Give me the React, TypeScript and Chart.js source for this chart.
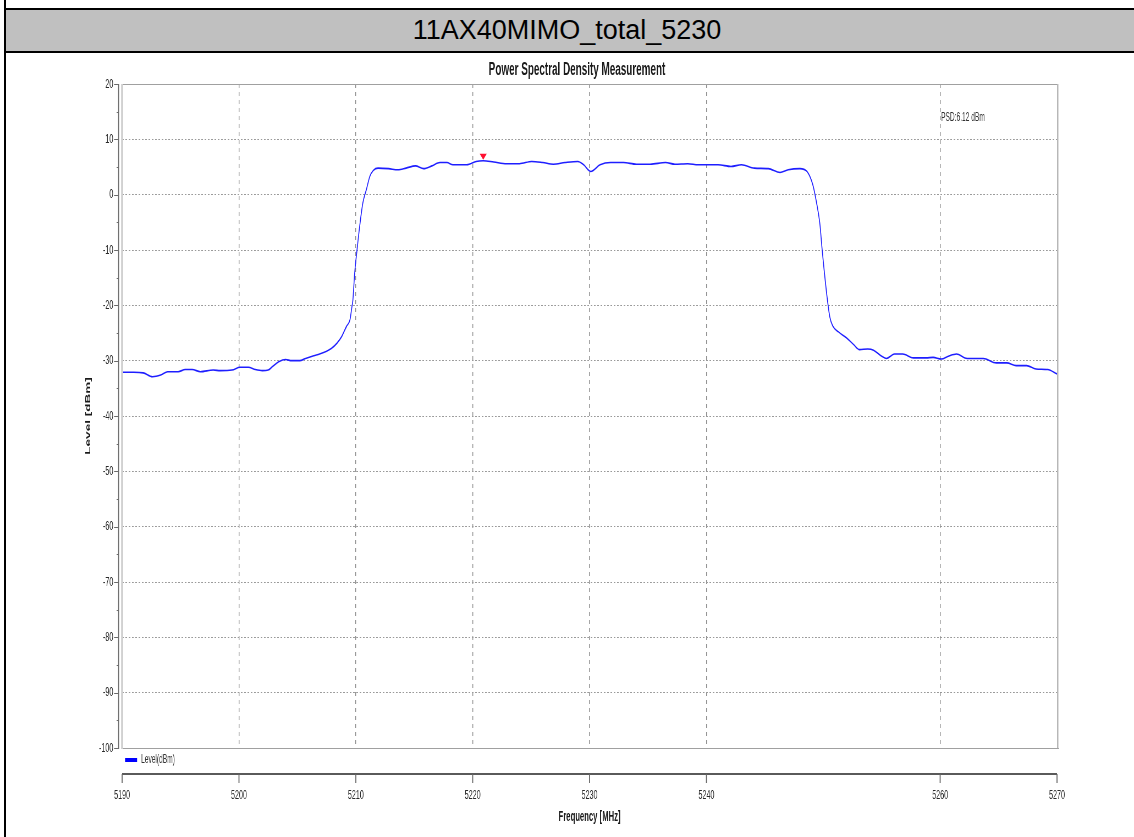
import React, { useEffect, useRef } from 'react';
import { Chart, registerables } from 'chart.js';

Chart.register(...registerables);

const headerTitle = '11AX40MIMO_total_5230';
const chartTitle = 'Power Spectral Density Measurement';
const psdLabel = 'PSD:6.12 dBm';
const legendLabel = 'Level(dBm)';
const xTitle = 'Frequency [MHz]';
const yTitle = 'Level [dBm]';

const xTicks = [5190, 5200, 5210, 5220, 5230, 5240, 5260, 5270];
const yTicks = [20, 10, 0, -10, -20, -30, -40, -50, -60, -70, -80, -90, -100];
const yMinorTicks = [15, 5, -5, -15, -25, -35, -45, -55, -65, -75, -85, -95];

const markerFreq = 5220.9;
const markerLevel = 6.12;

const freqs = [
  5190.0, 5191.0, 5191.8, 5192.6, 5193.3, 5193.9, 5194.8, 5195.4, 5196.0, 5196.7,
  5197.8, 5198.4, 5199.4, 5200.1, 5200.8, 5201.4, 5202.0, 5202.5, 5202.9, 5203.4,
  5204.0, 5204.5, 5205.2, 5205.7, 5206.4, 5206.9, 5207.5, 5207.9, 5208.4, 5208.8,
  5209.2, 5209.5, 5209.65, 5209.75, 5209.9, 5210.1, 5210.4, 5210.6, 5210.9, 5211.2,
  5211.5, 5211.9, 5212.8, 5213.6, 5214.3, 5215.1, 5215.8, 5216.5, 5217.2, 5217.8,
  5218.3, 5219.5, 5220.3, 5220.9, 5221.8, 5222.9, 5224.0, 5225.05, 5226.0, 5226.9,
  5227.9, 5229.0, 5229.5, 5230.1, 5230.9, 5231.8, 5232.9, 5234.0, 5235.2, 5236.5,
  5237.3, 5238.4, 5239.3, 5241.0, 5242.1, 5243.0, 5244.1, 5245.3, 5246.3, 5247.0,
  5248.0, 5248.6, 5249.1, 5249.4, 5249.7, 5249.9, 5250.1, 5250.35, 5250.55, 5250.8,
  5251.3, 5252.0, 5252.6, 5253.1, 5253.8, 5254.3, 5255.0, 5255.4, 5256.1, 5256.8,
  5257.7, 5258.8, 5259.4, 5260.1, 5260.7, 5261.4, 5262.3, 5263.7, 5264.8, 5265.7,
  5266.5, 5267.4, 5268.2, 5269.2, 5270.0,
];

const levels = [
  -32.1, -32.1, -32.2, -32.9, -32.6, -32.0, -32.0, -31.6, -31.6, -32.0,
  -31.7, -31.8, -31.7, -31.2, -31.2, -31.6, -31.8, -31.7, -31.0, -30.2,
  -29.8, -30.0, -30.0, -29.6, -29.1, -28.8, -28.3, -27.8, -26.8, -25.6,
  -23.8, -22.6, -20.5, -19.0, -14.2, -10.0, -4.5, -1.5, 0.9, 3.3,
  4.4, 4.8, 4.7, 4.5, 4.8, 5.2, 4.7, 5.2, 5.8, 5.8,
  5.4, 5.4, 6.0, 6.12, 5.9, 5.6, 5.6, 6.0, 5.8, 5.5,
  5.8, 6.0, 5.4, 4.2, 5.4, 5.8, 5.8, 5.5, 5.5, 5.8,
  5.5, 5.6, 5.4, 5.4, 5.1, 5.4, 4.8, 4.7, 4.0, 4.5,
  4.7, 4.2, 1.8, -1.2, -5.1, -9.9, -14.2, -19.0, -22.0, -23.7,
  -24.8, -25.9, -27.1, -28.0, -27.9, -28.1, -29.2, -29.6, -28.8, -28.8,
  -29.5, -29.5, -29.4, -29.7, -29.2, -28.8, -29.6, -29.6, -30.4, -30.4,
  -30.9, -30.9, -31.5, -31.6, -32.4,
];

// The original plot is horizontally squeezed: the chart is drawn on a wide
// canvas and displayed at the page width.
const PAGE_W = 1134;
const CANVAS_W = 2062;
const CANVAS_H = 784;
const SX = CANVAS_W / PAGE_W; // internal px per page px

const ARIAL = '"Liberation Sans", Arial, sans-serif';

const decorPlugin = {
  id: 'decor',
  afterDraw(chart: any) {
    const { ctx, chartArea: a, scales } = chart;
    const xs = scales.x;
    const ys = scales.y;
    ctx.save();
    ctx.setLineDash([]);

    // plot frame
    ctx.fillStyle = '#a0a0a0';
    ctx.fillRect(a.left, a.top, a.right - a.left, 1);
    ctx.fillRect(a.left, a.bottom, a.right - a.left + 2 * SX, 1);
    ctx.fillStyle = '#b0b0b0';
    ctx.fillRect(a.right, a.top, SX, a.bottom - a.top);
    ctx.fillStyle = '#dcdcdc';
    ctx.fillRect(a.right + SX, a.top, SX, a.bottom - a.top);
    ctx.fillStyle = '#d0d0d0';
    ctx.fillRect(a.left - 1 * SX, a.top, 2 * SX, a.bottom - a.top + 1);

    // y axis line and ticks
    ctx.fillStyle = '#6a6a6a';
    ctx.fillRect(a.left - 4 * SX, a.top, SX, a.bottom - a.top + 1);
    yTicks.forEach((v) => {
      const py = Math.round(ys.getPixelForValue(v));
      ctx.fillRect(a.left - 8 * SX, py, 4 * SX, 1);
    });
    yMinorTicks.forEach((v) => {
      const py = Math.round(ys.getPixelForValue(v));
      ctx.fillRect(a.left - 5.5 * SX, py, 1.5 * SX, 1);
    });

    // x axis line and ticks (below the legend)
    const ly = a.bottom + 26;
    ctx.fillStyle = '#5a5a5a';
    ctx.fillRect(a.left, ly - 1, a.right - a.left, 2);
    ctx.fillStyle = '#666';
    xTicks.forEach((v) => {
      const px = xs.getPixelForValue(v);
      ctx.fillRect(px - 0.5 * SX, ly, SX, 9);
    });

    // legend
    ctx.fillStyle = '#0000ff';
    ctx.fillRect(a.left + 3 * SX, a.bottom + 10, 12 * SX, 4);
    ctx.fillStyle = '#333';
    ctx.font = `12px ${ARIAL}`;
    ctx.textAlign = 'left';
    ctx.textBaseline = 'middle';
    ctx.fillText(legendLabel, a.left + 19 * SX, a.bottom + 12);

    // chart title
    ctx.fillStyle = '#1a1a1a';
    ctx.font = `bold 18px ${ARIAL}`;
    ctx.textAlign = 'center';
    ctx.fillText(chartTitle, 577 * SX, 17);

    // PSD label
    ctx.fillStyle = '#333';
    ctx.font = `12px ${ARIAL}`;
    ctx.textAlign = 'left';
    ctx.fillText(psdLabel, xs.getPixelForValue(5260) + SX, a.top + 34);

    // peak marker
    const mx = xs.getPixelForValue(markerFreq);
    const my = ys.getPixelForValue(markerLevel);
    ctx.fillStyle = '#ff1030';
    ctx.beginPath();
    ctx.moveTo(mx, my - 1);
    ctx.lineTo(mx - 3.5 * SX, my - 7);
    ctx.lineTo(mx + 3.5 * SX, my - 7);
    ctx.closePath();
    ctx.fill();
    ctx.restore();
  },
};

export default function App() {
  const canvasRef = useRef<HTMLCanvasElement | null>(null);

  useEffect(() => {
    const canvas = canvasRef.current;
    if (!canvas) return;
    const edgeX = (c: any) =>
      c.tick && (c.tick.value === 5190 || c.tick.value === 5270) ? 'rgba(0,0,0,0)' : '#8c8c8c';
    const edgeY = (c: any) =>
      c.tick && (c.tick.value === 20 || c.tick.value === -100) ? 'rgba(0,0,0,0)' : '#9a9a9a';
    const chart = new Chart(canvas, {
      type: 'line',
      data: {
        datasets: [
          {
            label: legendLabel,
            data: freqs.map((f, i) => ({ x: f, y: levels[i] })),
            borderColor: '#1e1eff',
            backgroundColor: '#0000ff',
            borderWidth: 1.6,
            pointRadius: 0,
            cubicInterpolationMode: 'monotone',
            fill: false,
          },
        ],
      },
      plugins: [decorPlugin],
      options: {
        responsive: false,
        animation: false,
        devicePixelRatio: 1,
        layout: { padding: { left: 0, right: Math.round(CANVAS_W - 1057 * SX), top: 31, bottom: 0 } },
        plugins: {
          legend: { display: false },
          title: { display: false },
          tooltip: { enabled: false },
        },
        scales: {
          x: {
            type: 'linear',
            position: 'bottom',
            min: 5190,
            max: 5270,
            afterBuildTicks: (s: any) => {
              s.ticks = xTicks.map((v) => ({ value: v }));
            },
            afterFit: (s: any) => {
              s.height = 89;
            },
            grid: { drawTicks: false, color: edgeX, lineWidth: 1.4 },
            border: { display: false, dash: [4, 4] },
            ticks: {
              padding: 40,
              autoSkip: false,
              maxRotation: 0,
              color: '#2a2a2a',
              font: { family: ARIAL, size: 13 },
              callback: (v: any) => String(v),
            },
            title: {
              display: true,
              text: xTitle,
              color: '#1a1a1a',
              font: { family: ARIAL, size: 14, weight: 'bold' },
              padding: { top: 0, bottom: 11 },
            },
          },
          y: {
            type: 'linear',
            min: -100,
            max: 20,
            afterBuildTicks: (s: any) => {
              s.ticks = yTicks.map((v) => ({ value: v }));
            },
            afterFit: (s: any) => {
              s.width = Math.round(122 * SX);
            },
            grid: { drawTicks: false, color: edgeY, lineWidth: 1 },
            border: { display: false, dash: [3, 3] },
            ticks: {
              padding: Math.round(9 * SX),
              color: '#2a2a2a',
              font: { family: ARIAL, size: 13 },
              callback: (v: any) => String(v),
            },
            title: {
              display: true,
              text: yTitle,
              color: '#1a1a1a',
              font: { family: ARIAL, size: 13.5, weight: 'bold' },
              padding: { top: Math.round(88 * SX - 8), bottom: 0 },
            },
          },
        },
      },
    } as any);
    return () => chart.destroy();
  }, []);

  return (
    <div
      style={{
        position: 'fixed',
        left: 0,
        top: 0,
        width: PAGE_W,
        height: 837,
        background: '#fff',
        overflow: 'hidden',
      }}
    >
      <div style={{ position: 'absolute', left: 4, top: 0, width: 2, height: 837, background: '#000' }} />
      <div style={{ position: 'absolute', left: 4, top: 8, width: 1130, height: 2, background: '#000' }} />
      <div style={{ position: 'absolute', left: 6, top: 10, width: 1128, height: 41, background: '#c0c0c0' }} />
      <div
        style={{
          position: 'absolute',
          left: 0,
          top: 10,
          width: PAGE_W,
          height: 41,
          lineHeight: '41px',
          textAlign: 'center',
          fontFamily: ARIAL,
          fontSize: 27,
          color: '#000',
          whiteSpace: 'nowrap',
        }}
      >
        {headerTitle}
      </div>
      <div style={{ position: 'absolute', left: 4, top: 51, width: 1130, height: 2, background: '#000' }} />
      <canvas
        ref={canvasRef}
        width={CANVAS_W}
        height={CANVAS_H}
        style={{ position: 'absolute', left: 0, top: 53, width: PAGE_W, height: CANVAS_H }}
      />
    </div>
  );
}
